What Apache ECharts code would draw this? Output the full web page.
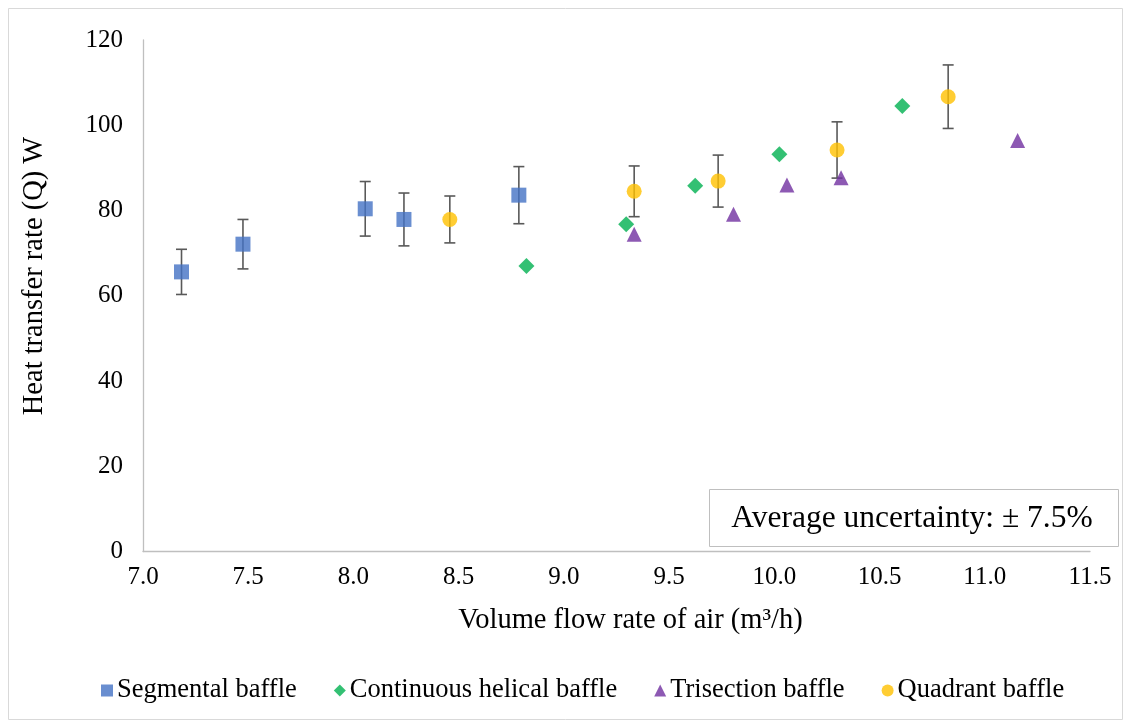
<!DOCTYPE html>
<html>
<head>
<meta charset="utf-8">
<script src="https://cdn.jsdelivr.net/npm/echarts@6/dist/echarts.min.js"></script>
<style>
  html, body { margin: 0; padding: 0; background: #ffffff; }
  #chart { width: 1132px; height: 726px; }
</style>
</head>
<body>
<div id="chart"></div>
<script>
// Volume flow rate of air (m³/h) and heat transfer rate (W) for each baffle type
const segmentalX = [7.183, 7.475, 8.056, 8.240, 8.786];
const segmentalY = [65.6, 72.1, 80.4, 77.9, 83.6];
const segmentalErr = [5.3, 5.8, 6.4, 6.2, 6.7];

const helicalX = [8.822, 9.296, 9.624, 10.024, 10.608];
const helicalY = [67.0, 76.8, 85.8, 93.2, 104.5];

const trisectionX = [9.334, 9.806, 10.060, 10.317, 11.156];
const trisectionY = [74.4, 79.1, 86.0, 87.7, 96.4];

const quadrantX = [8.458, 9.334, 9.733, 10.298, 10.826];
const quadrantY = [77.9, 84.5, 86.9, 94.2, 106.7];
const quadrantErr = [5.5, 5.95, 6.1, 6.6, 7.45];

const xTicks = [7.0, 7.5, 8.0, 8.5, 9.0, 9.5, 10.0, 10.5, 11.0, 11.5];
const yTicks = [0, 20, 40, 60, 80, 100, 120];

const FONT = '"Liberation Serif", "Times New Roman", serif';
const TEXT = '#000000';

function pairs(xs, ys) { return xs.map((x, i) => [x, ys[i]]); }
function bars(xs, ys, es) { return xs.map((x, i) => [x, ys[i] - es[i], ys[i] + es[i]]); }

// vertical error bar with flat caps at both ends
function renderErrorBar(params, api) {
  const lo = api.coord([api.value(0), api.value(1)]);
  const hi = api.coord([api.value(0), api.value(2)]);
  const half = 5.5;
  const style = { stroke: '#595959', lineWidth: 1.6 };
  return {
    type: 'group',
    children: [
      { type: 'line', shape: { x1: hi[0], y1: hi[1], x2: lo[0], y2: lo[1] }, style },
      { type: 'line', shape: { x1: hi[0] - half, y1: hi[1], x2: hi[0] + half, y2: hi[1] }, style },
      { type: 'line', shape: { x1: lo[0] - half, y1: lo[1], x2: lo[0] + half, y2: lo[1] }, style }
    ]
  };
}

const chart = echarts.init(document.getElementById('chart'), null, { renderer: 'canvas' });

chart.setOption({
  backgroundColor: '#ffffff',
  animation: false,
  grid: { left: 143, right: 42, top: 40, bottom: 174.5 },
  xAxis: {
    type: 'value',
    min: xTicks[0],
    max: xTicks[xTicks.length - 1],
    interval: 0.5,
    name: 'Volume flow rate of air (m³/h)',
    nameLocation: 'middle',
    nameGap: 55,
    nameTextStyle: { fontFamily: FONT, fontSize: 28.5, color: TEXT, padding: [0, 0, 0, 28] },
    axisLine: { show: true, lineStyle: { color: '#BFBFBF', width: 1.3 } },
    axisTick: { show: false },
    splitLine: { show: false },
    axisLabel: {
      margin: 13,
      fontFamily: FONT, fontSize: 25, color: TEXT,
      formatter: v => v.toFixed(1)
    }
  },
  yAxis: {
    type: 'value',
    min: yTicks[0],
    max: yTicks[yTicks.length - 1],
    interval: 20,
    axisLine: { show: true, lineStyle: { color: '#BFBFBF', width: 1.3 } },
    axisTick: { show: false },
    splitLine: { show: false },
    axisLabel: { margin: 20, fontFamily: FONT, fontSize: 25, color: TEXT }
  },
  legend: {
    bottom: 17,
    left: 96,
    itemWidth: 12,
    itemHeight: 12,
    itemGap: 37,
    textStyle: { fontFamily: FONT, fontSize: 26.5, color: TEXT, padding: [0, 0, 0, -1] },
    data: ['Segmental baffle', 'Continuous helical baffle', 'Trisection baffle', 'Quadrant baffle']
  },
  series: [
    {
      name: 'Segmental error', type: 'custom', z: 1,
      renderItem: renderErrorBar, data: bars(segmentalX, segmentalY, segmentalErr),
      silent: true
    },
    {
      name: 'Quadrant error', type: 'custom', z: 1,
      renderItem: renderErrorBar, data: bars(quadrantX, quadrantY, quadrantErr),
      silent: true
    },
    {
      name: 'Segmental baffle', type: 'scatter', z: 3,
      symbol: 'rect', symbolSize: 15,
      itemStyle: { color: '#4472C4' },
      data: pairs(segmentalX, segmentalY)
    },
    {
      name: 'Continuous helical baffle', type: 'scatter', z: 3,
      symbol: 'diamond', symbolSize: [16, 16],
      itemStyle: { color: '#00B050' },
      data: pairs(helicalX, helicalY)
    },
    {
      name: 'Trisection baffle', type: 'scatter', z: 3,
      symbol: 'triangle', symbolSize: [15, 15],
      itemStyle: { color: '#7030A0' },
      data: pairs(trisectionX, trisectionY)
    },
    {
      name: 'Quadrant baffle', type: 'scatter', z: 3,
      symbol: 'circle', symbolSize: 15,
      itemStyle: { color: '#FFC000' },
      data: pairs(quadrantX, quadrantY)
    }
  ],
  graphic: [
    {
      type: 'rect', z: 0, silent: true,
      shape: { x: 8.5, y: 8.5, width: 1114, height: 711 },
      style: { fill: 'none', stroke: '#D9D9D9', lineWidth: 1 }
    },
    {
      type: 'text', z: 10,
      x: 35, y: 276, rotation: Math.PI / 2,
      style: {
        text: 'Heat transfer rate (Q) W',
        font: '28.5px ' + FONT,
        fill: TEXT,
        align: 'center',
        verticalAlign: 'middle'
      }
    },
    {
      type: 'group', z: 10,
      children: [
        {
          type: 'rect',
          shape: { x: 709.5, y: 489.5, width: 409, height: 57 },
          style: { fill: '#ffffff', stroke: '#BFBFBF', lineWidth: 1 }
        },
        {
          type: 'text',
          x: 912, y: 519,
          style: {
            text: 'Average uncertainty: ± 7.5%',
            font: '31.5px ' + FONT,
            fill: TEXT,
            align: 'center',
            verticalAlign: 'middle'
          }
        }
      ]
    }
  ]
});
</script>
</body>
</html>
